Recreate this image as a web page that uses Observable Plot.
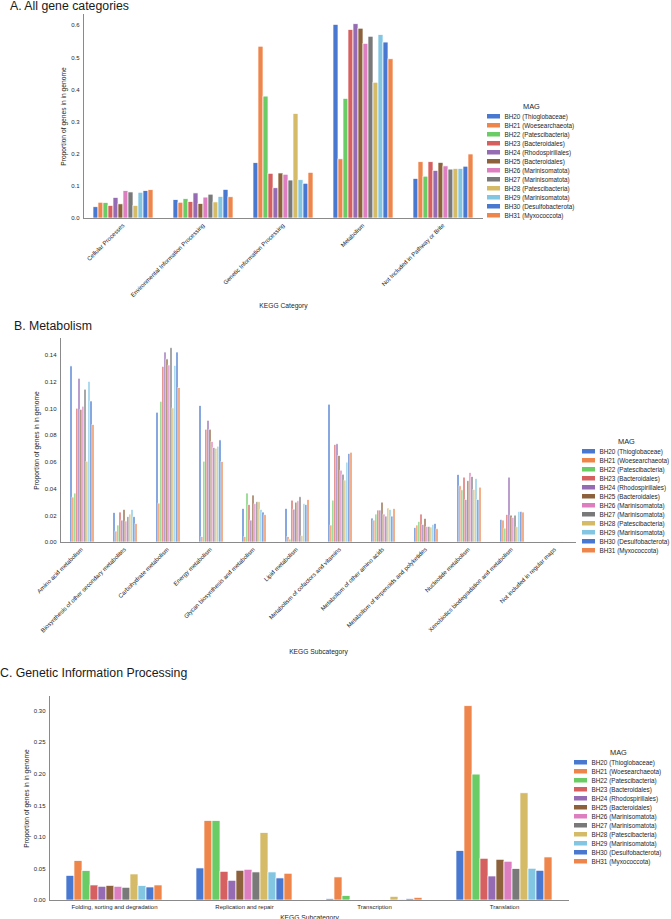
<!DOCTYPE html>
<html><head><meta charset="utf-8">
<script src="https://cdn.jsdelivr.net/npm/d3@7"></script>
<script src="https://cdn.jsdelivr.net/npm/@observablehq/plot@0.6"></script>
<style>
html,body{margin:0;padding:0;background:#fff;}
#root{position:relative;width:671px;height:919px;overflow:hidden;font-family:"Liberation Sans",Arial,sans-serif;color:#262626;}
.title{position:absolute;font-size:12.3px;line-height:12.3px;white-space:nowrap;color:#1a1a1a;}
.chart{position:absolute;left:0;}
.chart svg{overflow:visible;}
.legend{position:absolute;width:95px;}
.legend .ltitle{height:10px;line-height:10px;font-size:7.4px;color:#262626;}
div.mg-swatches{margin:0 !important;min-height:0 !important;font:6.35px "Liberation Sans",Arial,sans-serif !important;color:#262626;}
div.mg-swatches .mg-swatch{height:9px;padding:0 !important;display:flex;align-items:center;}
div.mg-swatches .mg-swatch svg{margin-right:4.5px !important;}
div.mg-swatches .mg-swatch-label{overflow:visible !important;text-overflow:clip !important;white-space:nowrap !important;}
</style></head>
<body><div id="root"></div>
<script>
// ---------- data ----------
const MAGS = ["BH20 (Thioglobaceae)","BH21 (Woesearchaeota)","BH22 (Patescibacteria)","BH23 (Bacteroidales)","BH24 (Rhodospirillales)","BH25 (Bacteroidales)","BH26 (Marinisomatota)","BH27 (Marinisomatota)","BH28 (Patescibacteria)","BH29 (Marinisomatota)","BH30 (Desulfobacterota)","BH31 (Myxococcota)"];
const COLORS = ["#4878d0","#ee854a","#6acc64","#d65f5f","#956cb4","#8c613c","#dc7ec0","#797979","#d5bb67","#82c6e2","#4878d0","#ee854a"];
const LEGEND_TITLE = "MAG";
const Y_LABEL = "Proportion of genes in in genome";

// Panel A
const TITLE_A = "A. All gene categories";
const X_LABEL_A = "KEGG Category";
const CATS_A = ["Cellular Processes","Environmental Information Processing","Genetic Information Processing","Metabolism","Not Included in Pathway or Brite"];
const A_cellular    = [0.035,0.049,0.048,0.039,0.064,0.044,0.085,0.081,0.039,0.080,0.085,0.088];
const A_envInfo     = [0.057,0.049,0.060,0.051,0.078,0.045,0.065,0.074,0.050,0.067,0.089,0.066];
const A_genInfo     = [0.172,0.534,0.379,0.139,0.094,0.140,0.136,0.118,0.325,0.119,0.108,0.142];
const A_metabolism  = [0.602,0.184,0.372,0.586,0.604,0.590,0.543,0.565,0.422,0.570,0.547,0.495];
const A_notIncluded = [0.123,0.175,0.130,0.175,0.148,0.173,0.162,0.152,0.154,0.154,0.161,0.199];
const Y_TICKS_A = [0,0.1,0.2,0.3,0.4,0.5,0.6];

// Panel B
const TITLE_B = "B. Metabolism";
const X_LABEL_B = "KEGG Subcategory";
const CATS_B = ["Amino acid metabolism","Biosynthesis of other secondary metabolites","Carbohydrate metabolism","Energy metabolism","Glycan biosynthesis and metabolism","Lipid metabolism","Metabolism of cofactors and vitamins","Metabolism of other amino acids","Metabolism of terpenoids and polyketides","Nucleotide metabolism","Xenobiotics biodegradation and metabolism","Not included in regular maps"];
const B_aminoAcid    = [0.1316,0.0336,0.0366,0.1000,0.1224,0.0992,0.1015,0.1142,0.0604,0.1201,0.1054,0.0878];
const B_secondary    = [0.0221,0.0082,0.0127,0.0224,0.0164,0.0244,0.0157,0.0189,0.0209,0.0244,0.0189,0.0137];
const B_carbohydrate = [0.0970,0.0291,0.1052,0.1313,0.1420,0.1368,0.1323,0.1452,0.1002,0.1320,0.1420,0.1154];
const B_energy       = [0.1020,0.0040,0.0604,0.0843,0.0910,0.0843,0.0751,0.0706,0.0701,0.0716,0.0763,0.0602];
const B_glycan       = [0.0251,0.0040,0.0366,0.0279,0.0164,0.0351,0.0286,0.0301,0.0301,0.0244,0.0224,0.0204];
const B_lipid        = [0.0251,0.0040,0.0022,0.0313,0.0246,0.0298,0.0308,0.0338,0.0047,0.0286,0.0279,0.0318];
const B_cofactors    = [0.1030,0.0127,0.0313,0.0729,0.0734,0.0647,0.0537,0.0507,0.0463,0.0597,0.0662,0.0671];
const B_otherAmino   = [0.0179,0.0164,0.0209,0.0239,0.0239,0.0298,0.0209,0.0194,0.0254,0.0244,0.0194,0.0249];
const B_terpenoids   = [0.0107,0.0127,0.0154,0.0209,0.0132,0.0177,0.0117,0.0117,0.0112,0.0132,0.0139,0.0099];
const B_nucleotide   = [0.0505,0.0420,0.0390,0.0485,0.0318,0.0458,0.0520,0.0490,0.0393,0.0473,0.0318,0.0410];
const B_xenobiotics  = [0.0169,0.0164,0.0104,0.0206,0.0485,0.0201,0.0184,0.0201,0.0114,0.0229,0.0229,0.0224];
const B_notRegular   = [0,0,0,0.0005,0.0005,0.0004,0.0005,0.0004,0,0.0006,0,0];
const Y_TICKS_B = [0,0.02,0.04,0.06,0.08,0.10,0.12,0.14];

// Panel C
const TITLE_C = "C. Genetic Information Processing";
const X_LABEL_C = "KEGG Subcategory";
const CATS_C = ["Folding, sorting and degradation","Replication and repair","Transcription","Translation"];
const C_folding       = [0.0390,0.0623,0.0465,0.0238,0.0217,0.0232,0.0217,0.0201,0.0412,0.0227,0.0206,0.0238];
const C_replication   = [0.0507,0.1257,0.1257,0.0454,0.0312,0.0470,0.0486,0.0444,0.1067,0.0444,0.0349,0.0423];
const C_transcription = [0.0020,0.0365,0.0069,0.0010,0.0010,0.0010,0.0010,0.0010,0.0058,0.0005,0.0020,0.0042];
const C_translation   = [0.0782,0.3074,0.1992,0.0660,0.0380,0.0644,0.0613,0.0497,0.1696,0.0502,0.0470,0.0681];
const Y_TICKS_C = [0,0.05,0.10,0.15,0.20,0.25,0.30];

// ---------- drawing ----------
const FONT = "'Liberation Sans', Arial, sans-serif";
const root = document.getElementById("root");

function toRows(cats, series) {
  const rows = [];
  cats.forEach((c, i) => MAGS.forEach((m, j) => rows.push({cat: c, mag: m, value: series[i][j]})));
  return rows;
}

function panel(o) {
  const data = toRows(o.cats, o.series);
  const yMax = d3.max(data, d => d.value) * 1.05;
  const svg = Plot.plot({
    width: o.width, height: o.height,
    marginTop: o.mt, marginBottom: o.mb, marginLeft: o.ml, marginRight: o.mr,
    style: {fontFamily: FONT, fontSize: "6px", color: "#262626", background: "transparent", overflow: "visible"},
    fx: {domain: o.cats, padding: 0, axis: null, label: null},
    // group of 12 bars spans 80% of each category slot (seaborn default)
    x: {domain: MAGS, paddingInner: 0, paddingOuter: 1.5, axis: null},
    y: {domain: [0, yMax], axis: null},
    color: {domain: MAGS, range: COLORS},
    marks: [
      Plot.barY(data, {fx: "cat", x: "mag", y: "value", fill: "mag", stroke: "white", strokeWidth: 0.7}),
      Plot.ruleY([0], {stroke: "#8a8a8a", strokeWidth: 1}),
      Plot.frame({anchor: "left", facetAnchor: "left", stroke: "#8a8a8a", strokeWidth: 1}),
      Plot.axisY({ticks: o.yTicks, tickFormat: d3.format(o.fmt), tickSize: 0, tickPadding: 4, label: null}),
      Plot.axisY({ticks: [], label: Y_LABEL, labelAnchor: "center", labelOffset: o.yLabelOffset, labelArrow: "none", fontSize: 6.7}),
      Plot.axisFx({anchor: "bottom", tickSize: 0, tickPadding: o.tickPad, tickRotate: o.rotate, label: null}),
      Plot.axisFx({anchor: "bottom", ticks: [], label: o.xLabel, labelAnchor: "center", labelOffset: o.xLabelOffset, fontSize: 6.7})
    ]
  });
  const wrap = document.createElement("div");
  wrap.className = "chart";
  wrap.style.top = o.top + "px";
  wrap.append(svg);
  root.append(wrap);

  const t = document.createElement("div");
  t.className = "title";
  t.textContent = o.title;
  t.style.left = o.titleLeft + "px";
  t.style.top = o.titleTop + "px";
  root.append(t);

  const lg = document.createElement("div");
  lg.className = "legend";
  lg.style.left = o.legLeft + "px";
  lg.style.top = o.legTop + "px";
  const lt = document.createElement("div");
  lt.className = "ltitle";
  lt.textContent = LEGEND_TITLE;
  lt.style.paddingLeft = o.legTitlePad + "px";
  lg.append(lt);
  lg.append(Plot.legend({color: {type: "ordinal", domain: MAGS, range: COLORS}, legend: "swatches", columns: 1, swatchWidth: 13, swatchHeight: 4.5, className: "mg"}));
  root.append(lg);
}

panel({
  title: TITLE_A, titleLeft: 10, titleTop: 0,
  cats: CATS_A, series: [A_cellular, A_envInfo, A_genInfo, A_metabolism, A_notIncluded],
  yTicks: Y_TICKS_A, fmt: ".1f", xLabel: X_LABEL_A,
  top: 0, width: 487, height: 312, mt: 14, mb: 94, ml: 82, mr: 4,
  rotate: -45, tickPad: 6, yLabelOffset: 22, xLabelOffset: 89,
  legLeft: 487, legTop: 102, legTitlePad: 36
});
panel({
  title: TITLE_B, titleLeft: 14, titleTop: 320,
  cats: CATS_B, series: [B_aminoAcid, B_secondary, B_carbohydrate, B_energy, B_glycan, B_lipid, B_cofactors, B_otherAmino, B_terpenoids, B_nucleotide, B_xenobiotics, B_notRegular],
  yTicks: Y_TICKS_B, fmt: ".2f", xLabel: X_LABEL_B,
  top: 330, width: 582, height: 328, mt: 8, mb: 116, ml: 58, mr: 4,
  rotate: -45, tickPad: 6, yLabelOffset: 26, xLabelOffset: 111,
  legLeft: 582, legTop: 437, legTitlePad: 36
});
panel({
  title: TITLE_C, titleLeft: 0, titleTop: 667,
  cats: CATS_C, series: [C_folding, C_replication, C_transcription, C_translation],
  yTicks: Y_TICKS_C, fmt: ".2f", xLabel: X_LABEL_C,
  top: 688, width: 572, height: 231, mt: 8, mb: 19, ml: 49, mr: 3,
  rotate: 0, tickPad: 4, yLabelOffset: 25, xLabelOffset: 19,
  legLeft: 574, legTop: 748, legTitlePad: 36
});
</script>
</body></html>
